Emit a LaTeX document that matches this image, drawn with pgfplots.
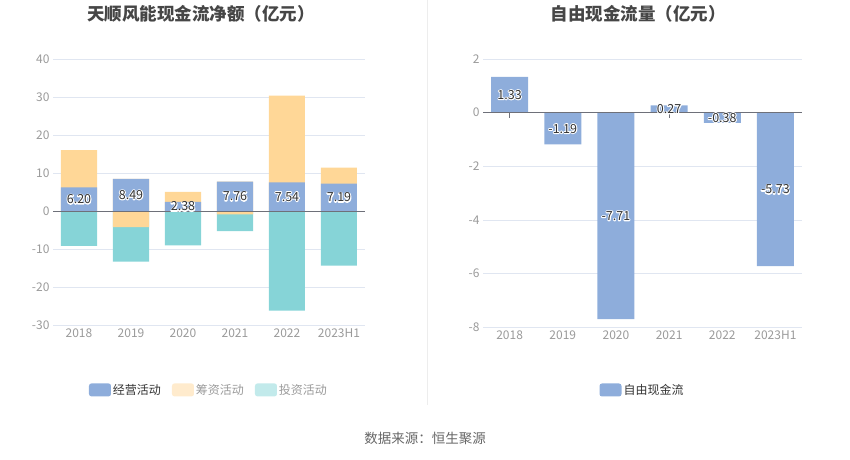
\documentclass[border=0pt]{standalone}
\usepackage{fontspec}
\setmainfont{Noto Sans CJK SC}
\usepackage{pgfplots}
\pgfplotsset{compat=1.18}
\usepackage{pgfplotstable}

\definecolor{opblue}{HTML}{8EADDB}
\definecolor{finorange}{HTML}{FFD797}
\definecolor{invcyan}{HTML}{86D4D7}
\definecolor{finlight}{HTML}{FFEBCD}
\definecolor{invlight}{HTML}{C2EAEB}
\definecolor{gridc}{HTML}{E0E6F1}
\definecolor{tickc}{HTML}{9A9A9A}
\definecolor{titlec}{HTML}{464646}
\definecolor{zeroc}{HTML}{6E7079}

% white outline behind a label: one stroked copy, then the normal text
\newcommand\halo[1]{\makebox[0pt][l]{\color{white}\special{pdf:literal direct 2 Tr 2 w 1 J 1 j}#1\special{pdf:literal direct 0 Tr 1 w}}#1}

% cash flow by activity, 亿元
\pgfplotstableread{
x op fin inv lbl
0 6.20 9.8 -9.2 6.20
1 8.49 -4.26 -9.04 8.49
2 2.38 2.66 -9.04 2.38
3 7.76 -0.87 -4.43 7.76
4 7.54 22.8 -26.2 7.54
5 7.19 4.2 -14.4 7.19
}\cashflow

% free cash flow, 亿元
\pgfplotstableread{
x fcf lbl
0 1.33 1.33
1 -1.19 -1.19
2 -7.71 -7.71
3 0.27 0.27
4 -0.38 -0.38
5 -5.73 -5.73
}\freecash

\pgfplotsset{
  base/.style={
    scale only axis, clip=false,
    enlarge x limits=false, xmin=-0.5, xmax=5.5,
    xtick={0,...,5}, xticklabels={2018,2019,2020,2021,2022,2023H1},
    ymajorgrids, grid style={gridc, line width=0.6pt},
    axis line style={draw=none}, major tick length=0pt,
    tick label style={font=\fontsize{12}{14}\selectfont, text=tickc},
    /pgf/number format/assume math mode=true,
    legend style={draw=none, fill=none, legend columns=-1,
      font=\fontsize{12}{14}\selectfont,
      /tikz/every even column/.append style={column sep=9pt}},
  },
  bars/.style={ybar, bar shift=0pt, draw=none, forget plot},
  lbl/.style={draw=none, no marks, forget plot, point meta=explicit symbolic,
    nodes near coords={\halo{\pgfplotspointmeta}},
    every node near coord/.style={anchor=center,
      font=\fontsize{12.5}{14}\selectfont, text=black!80}},
}

\begin{document}
\begin{tikzpicture}
\path[use as bounding box] (0,0) rectangle (850pt,-459pt);
\draw[color=black!7] (427pt,0pt) -- (427pt,-405pt);

\node[font=\fontsize{17.5}{20}\selectfont\bfseries, text=titlec] at (201pt,-14pt) {天顺风能现金流净额（亿元）};
\node[font=\fontsize{17.5}{20}\selectfont\bfseries, text=titlec] at (638pt,-14pt) {自由现金流量（亿元）};

\begin{axis}[base,
  at={(53pt,-325pt)}, anchor=south west,
  width=312pt, height=266pt,
  ymin=-30, ymax=40, ytick={-30,-20,...,40},
  legend style={at={(0.5,-0.244)}, anchor=center},
  legend image code/.code={\fill[#1, draw=none, rounded corners=2.5pt] (0pt,-6.5pt) rectangle (22pt,6.5pt);},
]
  % positive stack: operating, then financing on top
  \addplot[bars, bar width=36pt, fill=finorange] table[x=x, y expr={\thisrow{op}+max(\thisrow{fin},0)}] {\cashflow};
  \addplot[bars, bar width=36pt, fill=opblue] table[x=x, y=op] {\cashflow};
  % negative stack: financing, then investing below
  \addplot[bars, bar width=36pt, fill=invcyan] table[x=x, y expr={min(\thisrow{fin},0)+\thisrow{inv}}] {\cashflow};
  \addplot[bars, bar width=36pt, fill=finorange] table[x=x, y expr={min(\thisrow{fin},0)}] {\cashflow};
  \draw[zeroc, line width=0.8pt] (-0.5,0) -- (5.5,0);
  \addplot[lbl] table[x=x, y expr={\thisrow{op}/2}, meta=lbl] {\cashflow};

  \addlegendimage{fill=opblue}
  \addlegendentry{\textcolor{black!80}{经营活动}}
  \addlegendimage{fill=finlight}
  \addlegendentry{\textcolor{tickc}{筹资活动}}
  \addlegendimage{fill=invlight}
  \addlegendentry{\textcolor{tickc}{投资活动}}
\end{axis}

\begin{axis}[base,
  at={(483pt,-327pt)}, anchor=south west,
  width=319pt, height=268pt,
  ymin=-8, ymax=2, ytick={-8,-6,...,2},
  legend style={at={(0.5,-0.235)}, anchor=center},
  legend image code/.code={\fill[#1, draw=none, rounded corners=2.5pt] (0pt,-6.5pt) rectangle (22pt,6.5pt);},
]
  \draw[zeroc, line width=0.8pt] (0,0) -- (0,-0.2) (3,0) -- (3,-0.2);
  \addplot[bars, bar width=37pt, fill=opblue] table[x=x, y=fcf] {\freecash};
  \draw[zeroc, line width=0.8pt] (-0.5,0) -- (5.5,0);
  \addplot[lbl] table[x=x, y expr={\thisrow{fcf}/2}, meta=lbl] {\freecash};

  \addlegendimage{fill=opblue}
  \addlegendentry{\textcolor{black!80}{自由现金流}}
\end{axis}

\node[font=\fontsize{13.5}{16}\selectfont, text=black!60] at (425pt,-438pt) {数据来源：恒生聚源};
\end{tikzpicture}
\end{document}
